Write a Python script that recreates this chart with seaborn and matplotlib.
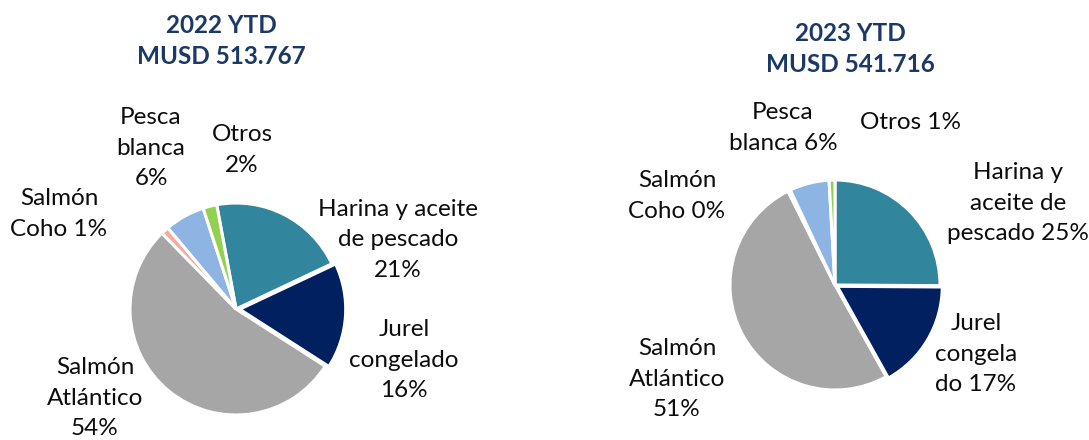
import matplotlib
matplotlib.use("Agg")
import matplotlib.pyplot as plt
import seaborn as sns

sns.set_theme(style="white")
plt.rcParams['font.family'] = ['Lato', 'DejaVu Sans']

# ---- data ----
categories = ["Harina y aceite de pescado", "Jurel congelado", "Salmón Atlántico",
              "Salmón Coho", "Pesca blanca", "Otros"]
values_2022 = [20.9, 16.1, 53.6, 1.2, 6.1, 2.1]
values_2023 = [25.1, 16.8, 50.7, 0.4, 6.1, 0.9]
titles = ["2022 YTD\nMUSD 513.767", "2023 YTD\nMUSD 541.716"]
labels_2022 = ["Harina y aceite\nde pescado\n{p}%", "Jurel\ncongelado\n{p}%", "Salmón\nAtlántico\n{p}%",
               "Salmón\nCoho {p}%", "Pesca\nblanca\n{p}%", "Otros\n{p}%"]
labels_2023 = ["Harina y\naceite de\npescado {p}%", "Jurel\ncongela\ndo {p}%", "Salmón\nAtlántico\n{p}%",
               "Salmón\nCoho {p}%", "Pesca\nblanca {p}%", "Otros {p}%"]

# ---- style / layout ----
colors_2022 = ["#31859C", "#002060", "#A6A6A6", "#F7AA9C", "#8EB4E3", "#92D050"]
colors_2023 = ["#31859C", "#002060", "#A6A6A6", "#F8C49C", "#8EB4E3", "#92D050"]
W, H = 1089, 440
fig = plt.figure(figsize=(W / 100, H / 100), dpi=100)

def px(x, y):
    return x / W, 1 - y / H

pies = [
    dict(vals=values_2022, labels=labels_2022, colors=colors_2022, center=(236, 309), r=106,
         start=100.5, explode=[0.0, 0.035, 0.0, 0.0, 0.0, 0.0],
         title_xy=(221, 41),
         label_xy=[(398, 240), (404, 360), (95, 398), (59, 214), (151, 148), (242, 150)]),
    dict(vals=values_2023, labels=labels_2023, colors=colors_2023, center=(835, 285), r=105,
         start=90, explode=[0.0, 0.025, 0.0, 0.0, 0.0, 0.0],
         title_xy=(850, 49),
         label_xy=[(1018, 203), (976, 354), (677, 379), (677, 196), (783, 128), (910, 122)]),
]

half = 160
for p, title in zip(pies, titles):
    cx, cy = p["center"]
    ax = fig.add_axes([(cx - half) / W, 1 - (cy + half) / H, 2 * half / W, 2 * half / H])
    lim = half / p["r"]
    ax.pie(p["vals"], colors=p["colors"], startangle=p["start"], counterclock=False,
           explode=p["explode"], radius=1,
           wedgeprops=dict(edgecolor="white", linewidth=2.2))
    ax.set_xlim(-lim, lim)
    ax.set_ylim(-lim, lim)
    ax.set_aspect("equal")
    ax.axis("off")
    for v, lab, (lx, ly) in zip(p["vals"], p["labels"], p["label_xy"]):
        fx, fy = px(lx, ly)
        fig.text(fx, fy, lab.format(p=int(round(v))), ha="center", va="center",
                 fontsize=17.5, color="#0d0d0d", linespacing=1.55)
    tx, ty = px(*p["title_xy"])
    fig.text(tx, ty, title, ha="center", va="center", fontsize=17.5, fontweight="bold",
             color="#1B3966", linespacing=1.37)

fig.savefig("out.png", dpi=100)
